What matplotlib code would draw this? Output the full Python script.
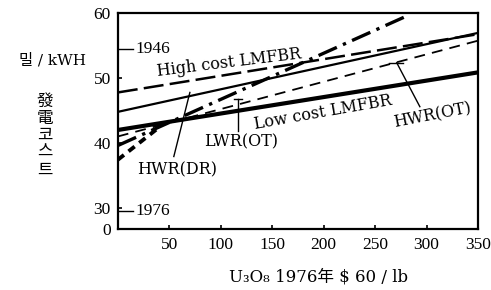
import matplotlib
matplotlib.use("Agg")
import matplotlib.pyplot as plt

plt.rcParams['font.family'] = ['Liberation Serif', 'Noto Sans CJK KR', 'DejaVu Sans']
WIDE = ['DejaVu Serif', 'Noto Sans CJK KR', 'DejaVu Sans']

# U3O8 price ($/lb) vs generating cost (mill/kWh)
x_end = [0, 350]
high_cost_lmfbr = [47.8, 56.8]
solid_upper = [44.8, 57.0]
low_cost_lmfbr = [42.0, 50.9]
hwr_ot = [41.0, 55.8]
lwr_ot_x = [0, 282]
lwr_ot = [39.6, 59.7]
hwr_dr_x = [0, 40]
hwr_dr = [37.4, 42.4]

x_ticks = [50, 100, 150, 200, 250, 300, 350]
y_ticks = [26.7, 30, 40, 50, 60]
y_tick_labels = ['0', '30', '40', '50', '60']

year_marks = [('1946', 54.5), ('1976', 29.5)]

fig = plt.figure(figsize=(4.91, 2.90), dpi=100)
ax = fig.add_axes([0.240, 0.2103, 0.7335, 0.7432])

ax.plot(x_end, high_cost_lmfbr, color='black', lw=1.8, dashes=(8, 2.5))
ax.plot(x_end, solid_upper, color='black', lw=1.6)
ax.plot(x_end, low_cost_lmfbr, color='black', lw=3.0)
ax.plot(x_end, hwr_ot, color='black', lw=1.3, dashes=(6, 4))
ax.plot(lwr_ot_x, lwr_ot, color='black', lw=2.4, dashes=(6, 2, 1, 2))
ax.plot(hwr_dr_x, hwr_dr, color='black', lw=2.8, dashes=(2, 1.5))

# labels on the chart
lab = dict(fontsize=11.5, family=WIDE, ha='center', va='center')
ax.text(108, 52.4, 'High cost LMFBR', rotation=7, **lab)
ax.text(199, 44.7, 'Low cost LMFBR', rotation=10, **lab)
ax.text(306, 44.2, 'HWR(OT)', rotation=11, **lab)
ax.text(120, 40.1, 'LWR(OT)', **lab)
ax.text(58, 35.9, 'HWR(DR)', **lab)

# pointers
ax.plot([117, 117], [41.9, 46.8], color='black', lw=1.0)
ax.plot([113, 121], [46.8, 46.8], color='black', lw=1.0)
ax.plot([271, 293.5], [52.4, 45.6], color='black', lw=1.0)
ax.plot([264, 277], [52.4, 52.4], color='black', lw=1.0)
ax.plot([54.4, 70], [37.9, 47.8], color='black', lw=1.0)

for name, yv in year_marks:
    ax.plot([0, 15], [yv, yv], color='black', lw=1.0, clip_on=False)
    ax.text(17, yv, name, fontsize=12.5, ha='left', va='center')

ax.set_xlim(0, 350)
ax.set_ylim(26.7, 60)
ax.set_xticks(x_ticks)
ax.set_xticklabels([str(t) for t in x_ticks])
ax.set_yticks(y_ticks)
ax.set_yticklabels(y_tick_labels)
ax.tick_params(direction='in', length=3, width=1.2, labelsize=12.5)
ax.tick_params(axis='x', pad=6)
ax.tick_params(axis='y', pad=5)
for sp in ax.spines.values():
    sp.set_linewidth(1.6)

fig.text(0.106, 0.793, '밀 / kWH', fontsize=11, family=WIDE,
         ha='center', va='center')
fig.text(0.092, 0.531, '\n'.join('發電코스트'), fontsize=12,
         ha='center', va='center', linespacing=1.1)
fig.text(0.648, 0.045, 'U₃O₈ 1976年 $ 60 / lb', fontsize=12, family=WIDE,
         ha='center', va='center')

fig.savefig('out.png', dpi=100)
